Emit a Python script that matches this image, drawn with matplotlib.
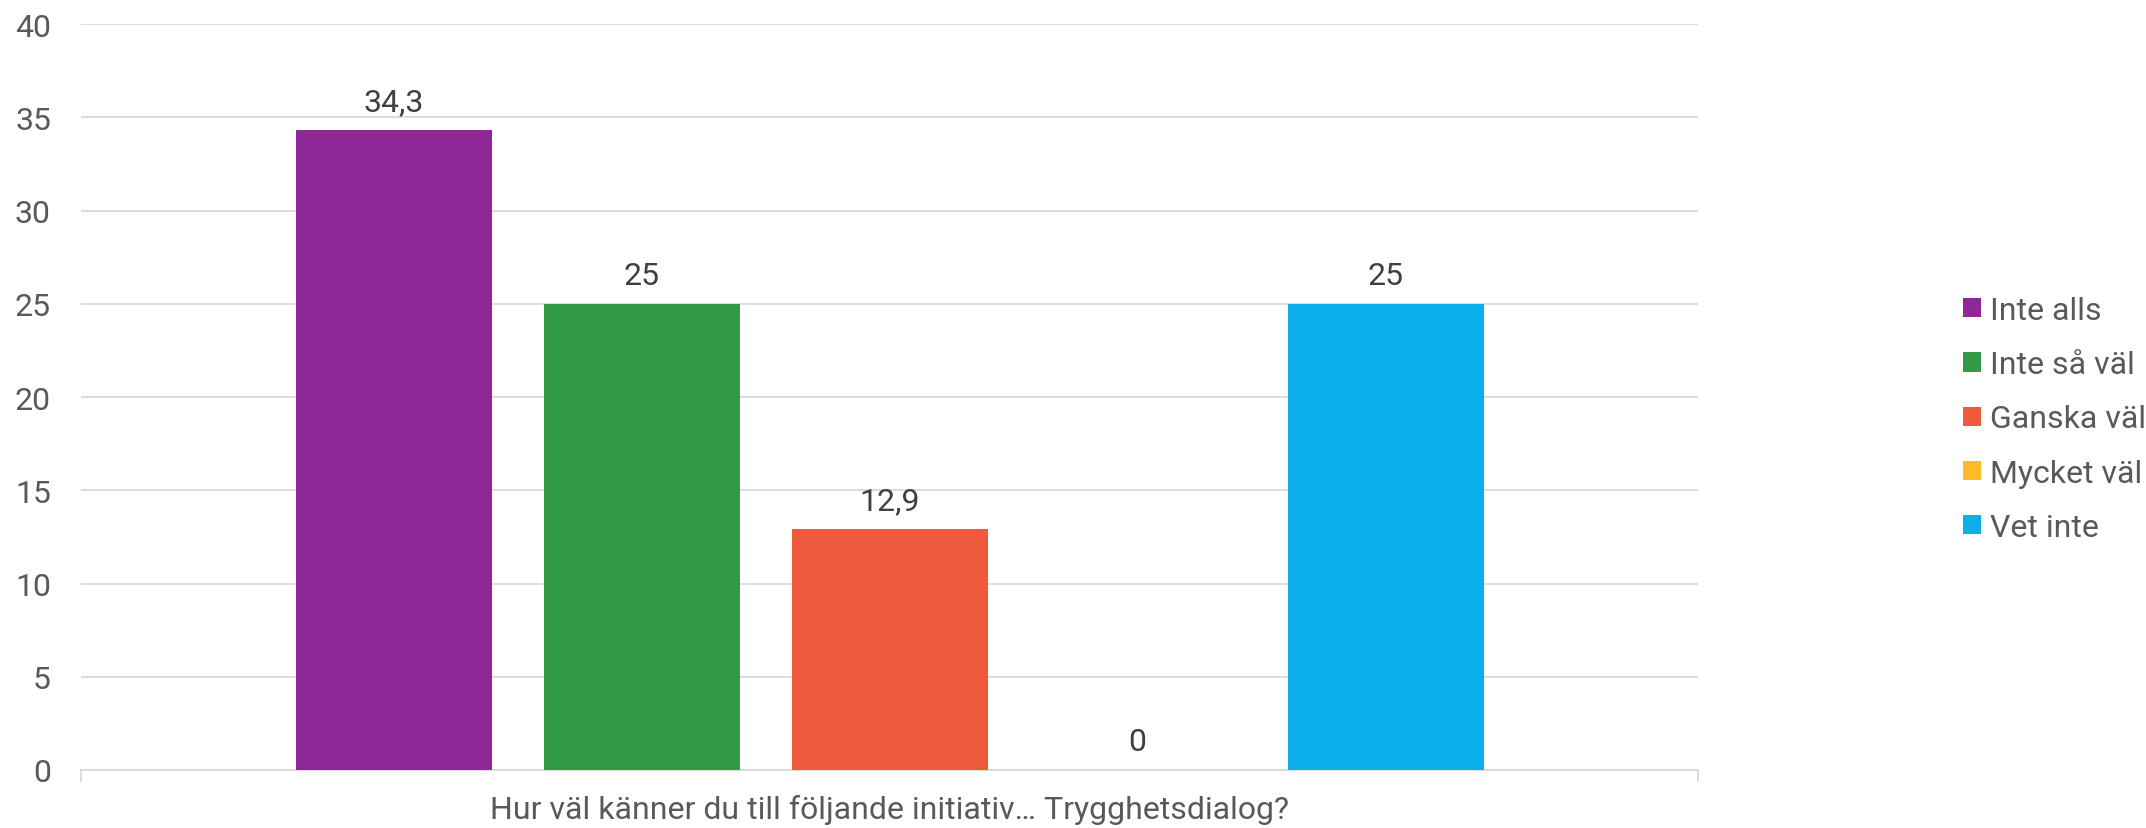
import matplotlib
matplotlib.use("Agg")
import matplotlib.pyplot as plt
from matplotlib.patches import Patch

series = ["Inte alls", "Inte så väl", "Ganska väl", "Mycket väl", "Vet inte"]
values = [34.3, 25, 12.9, 0, 25]
labels = ["34,3", "25", "12,9", "0", "25"]
colors = ["#8E2899", "#339A48", "#EF5A3C", "#FDBB2C", "#0DAFEB"]
category = "Hur väl känner du till följande initiativ… Trygghetsdialog?"
yticks = [0, 5, 10, 15, 20, 25, 30, 35, 40]

plt.rcParams['font.family'] = ['Roboto', 'DejaVu Sans']
FS = 23

W, H = 2146, 829
fig = plt.figure(figsize=(W / 100, H / 100), dpi=100)
L, R, T, B = 81, 1698, 25, 771
ax = fig.add_axes([L / W, 1 - B / H, (R - L) / W, (B - T) / H])

axw = R - L
step = 248 / axw
width = 196 / axw
for i, (v, c, lab) in enumerate(zip(values, colors, labels)):
    x = (i - 2) * step
    ax.bar(x, v, width=width, color=c, zorder=3)
    ax.annotate(lab, (x, v), xytext=(0, 14.4), textcoords="offset points",
                ha="center", va="baseline", fontsize=FS, color="#404040")

ax.set_xlim(-0.5, 0.5)
ax.set_ylim(0, 40)
ax.set_yticks(yticks)
ax.set_yticklabels([str(t) for t in yticks])
ax.yaxis.grid(True, color="#D9D9D9", linewidth=1.3, zorder=0)
ax.set_xticks([])
for s in ["top", "right", "left"]:
    ax.spines[s].set_visible(False)
ax.spines["bottom"].set_color("#D9D9D9")
ax.spines["bottom"].set_linewidth(1.3)
ax.tick_params(axis="y", length=0, pad=21.6, labelsize=FS, labelcolor="#595959")

# small end ticks on x axis
ax.plot([-0.5, -0.5], [0, -0.6], color="#D9D9D9", lw=1.3, clip_on=False)
ax.plot([0.5, 0.5], [0, -0.6], color="#D9D9D9", lw=1.3, clip_on=False)

fig.text(889 / W, 1 - 810 / H, category, ha="center", va="center",
         fontsize=FS, color="#595959")

handles = [Patch(facecolor=c, label=s) for s, c in zip(series, colors)]
leg = fig.legend(handles=handles, loc="center left",
                 bbox_to_anchor=(1963 / W, 1 - 420 / H), frameon=False,
                 fontsize=FS, labelcolor="#595959", handlelength=0.55,
                 handleheight=0.55, handletextpad=0.3, labelspacing=0.79,
                 borderaxespad=0, borderpad=0)

fig.savefig("out.png", dpi=100)
